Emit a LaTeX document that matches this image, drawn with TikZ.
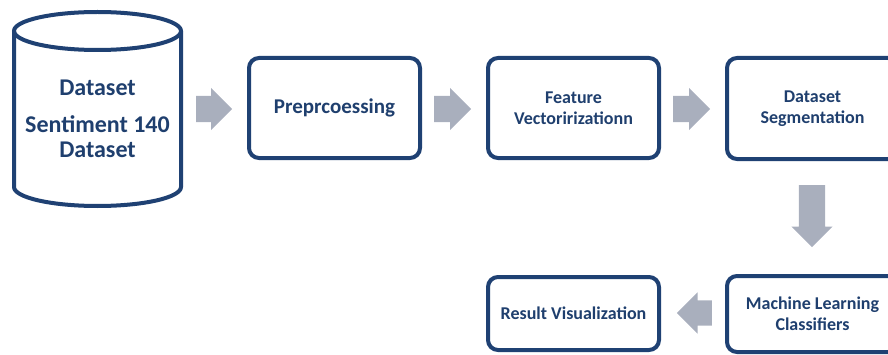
\documentclass[tikz,border=0pt]{standalone}
\usepackage{fontspec}
\setmainfont{Carlito}
\usetikzlibrary{shapes.arrows}
\definecolor{navy}{HTML}{1F4173}
\definecolor{txtblue}{HTML}{1F3F6E}
\definecolor{arrowgray}{HTML}{A9AFBD}
\begin{document}
\begin{tikzpicture}[x=1pt,y=1pt,
  box/.style={draw=navy, line width=4pt, rounded corners=10pt, fill=white,
    minimum width=171pt, inner sep=0pt, text=txtblue, align=center,
    font=\bfseries\fontsize{18}{21}\selectfont},
  blockarrow/.style={single arrow, fill=arrowgray, draw=none, inner xsep=0pt,
    inner ysep=13pt, minimum height=37pt, single arrow head extend=8pt,
    single arrow head indent=0pt, anchor=tail}]
\useasboundingbox (0,0) rectangle (888,354);
% cylinder
\draw[navy, line width=4pt, fill=white] (14,323) -- (14,167)
  arc[start angle=180, end angle=360, x radius=83.5pt, y radius=19pt] -- (181,323);
\draw[navy, line width=4pt] (97.5,323) ellipse [x radius=83.5pt, y radius=19pt];
\node[text=txtblue, align=center, font=\bfseries\fontsize{24}{25}\selectfont, inner sep=0pt]
  (db) at (97.5,235) {Dataset\\[12pt]Sentiment 140\\Dataset};
% boxes
\node[box, minimum height=100pt, font=\bfseries\fontsize{21}{24}\selectfont] (pre) at (334.5,246) {Preprcoessing};
\node[box, minimum height=100pt] (feat) at (573.5,246) {Feature\\Vectoririzationn};
\node[box, minimum height=101pt] (seg) at (812.5,245.5) {Dataset\\Segmentation};
\node[box, minimum height=76pt] (ml) at (812.5,40) {Machine Learning\\Classifiers};
\node[box, minimum height=73pt] (res) at (573.5,40.5) {Result Visualization};
% block arrows
\node[blockarrow, minimum height=36pt] (a1) at (196,245) {};
\node[blockarrow] (a2) at (434,245) {};
\node[blockarrow] (a3) at (673,245) {};
\node[blockarrow, rotate=-90, minimum height=62pt, single arrow head extend=7.5pt] (a4) at (812,169) {};
\node[blockarrow, rotate=180, minimum height=35pt, inner ysep=12.5pt] (a5) at (712,41) {};
\end{tikzpicture}
\end{document}
